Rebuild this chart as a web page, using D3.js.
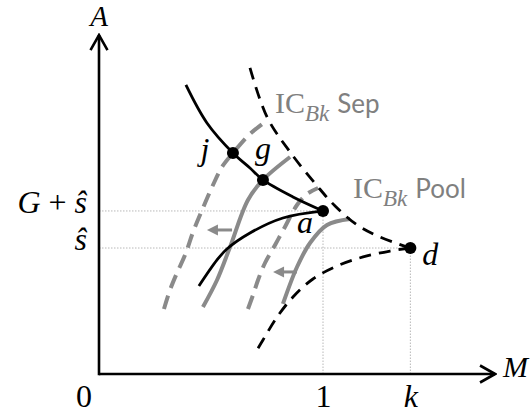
<!DOCTYPE html>
<html><head><meta charset="utf-8">
<script src="https://cdn.jsdelivr.net/npm/d3@7"></script>
<style>
html,body{margin:0;padding:0;background:#fff;}
svg{display:block;}
</style></head><body>
<svg id="chart" width="530" height="417"></svg>
<script>
// Model parameters (A measured in units of ŝ)
const G = 0.294, sHat = 1, k = 1.39;

// Tick labels
const xTicks = [1, k];
const xTickLabels = ["1", "k"];
const yTicks = [sHat + G, sHat];
const yTickLabels = ["G + ŝ", "ŝ"];

// Black solid curve falling through j, g to a
const curveFalling = [[0.388, 2.294], [0.482, 1.992], [0.598, 1.754], [0.674, 1.635],
  [0.732, 1.540], [0.866, 1.405], [1.0, 1.294]];
// Black solid curve rising to a
const curveRising = [[0.446, 0.698], [0.527, 0.905], [0.571, 0.992], [0.674, 1.119],
  [0.821, 1.238], [1.0, 1.294]];
// Black dashed boundary, upper branch ending at d
const boundUpper = [[0.674, 2.429], [0.750, 2.040], [0.853, 1.762], [0.978, 1.484],
  [1.054, 1.333], [1.152, 1.183], [1.254, 1.087], [1.39, 1.0]];
// Black dashed boundary, lower branch starting at d
const boundLower = [[1.39, 1.0], [1.299, 0.976], [1.179, 0.929], [1.0625, 0.857],
  [0.955, 0.754], [0.866, 0.611], [0.795, 0.452], [0.732, 0.270], [0.705, 0.190]];
// IC_Bk, separating: solid and shifted (dashed)
const icSep = [[0.464, 0.532], [0.527, 0.746], [0.585, 1.008], [0.665, 1.381],
  [0.732, 1.540], [0.853, 1.722]];
const icSepShifted = [[0.290, 0.516], [0.317, 0.667], [0.348, 0.802], [0.384, 0.944],
  [0.420, 1.127], [0.464, 1.317], [0.509, 1.500], [0.549, 1.643], [0.598, 1.754],
  [0.674, 1.905], [0.754, 2.016]];
// IC_Bk, pooling: solid and shifted (dashed)
const icPool = [[0.821, 0.556], [0.884, 0.849], [0.942, 1.040], [1.018, 1.183], [1.121, 1.230]];
const icPoolShifted = [[0.665, 0.516], [0.6875, 0.627], [0.710, 0.746], [0.741, 0.881],
  [0.786, 1.024], [0.830, 1.167], [0.884, 1.341], [0.929, 1.429], [0.978, 1.476]];

// Shift arrows: A level, from M, to M
const shiftArrows = [[1.143, 0.594, 0.482], [0.810, 0.884, 0.777]];

// Labelled points
const pointNames = ["j", "g", "a", "d"];
const pointM = [0.598, 0.732, 1, k];
const pointA = [1.754, 1.540, sHat + G, sHat];

// Dotted guides from the axes to these points
const guidePoints = [[1, sHat + G], [k, sHat]];

const svg = d3.select("#chart");
const x = d3.scaleLinear().domain([0, 1]).range([99, 323]);
const y = d3.scaleLinear().domain([0, 1]).range([374, 248]);
const xEnd = 1.768, yEnd = 2.69;

const GRAY = "#8a8a8a";
const MATH = "'Liberation Serif', 'DejaVu Serif', serif";
const SANS = "Lato, 'Open Sans', sans-serif";

const defs = svg.append("defs");
defs.append("marker").attr("id", "chev").attr("viewBox", "-17 -10 19 20")
  .attr("refX", 0).attr("refY", 0).attr("markerWidth", 19).attr("markerHeight", 20)
  .attr("markerUnits", "userSpaceOnUse").attr("orient", "auto")
  .append("path").attr("d", "M-15,-8.5L0,0L-15,8.5")
  .attr("fill", "none").attr("stroke", "#000").attr("stroke-width", 2.6);
defs.append("marker").attr("id", "tri").attr("viewBox", "-12 -6 13 12")
  .attr("refX", -9).attr("refY", 0).attr("markerWidth", 13).attr("markerHeight", 12)
  .attr("markerUnits", "userSpaceOnUse").attr("orient", "auto")
  .append("path").attr("d", "M-11,-5.5L0,0L-11,5.5Z").attr("fill", GRAY);

// Guides
const guides = svg.append("g").attr("stroke", "#b8b8b8").attr("stroke-width", 1)
  .attr("stroke-dasharray", "1.5,1.5");
guidePoints.forEach(([m, a]) => {
  guides.append("line").attr("x1", x(0)).attr("x2", x(m)).attr("y1", y(a)).attr("y2", y(a));
  guides.append("line").attr("x1", x(m)).attr("x2", x(m)).attr("y1", y(0)).attr("y2", y(a));
});

// Axes
svg.append("line").attr("x1", x(0)).attr("y1", y(0)).attr("x2", x(xEnd)).attr("y2", y(0))
  .attr("stroke", "#000").attr("stroke-width", 2.6).attr("marker-end", "url(#chev)");
svg.append("line").attr("x1", x(0)).attr("y1", y(0) + 1.3).attr("x2", x(0)).attr("y2", y(yEnd))
  .attr("stroke", "#000").attr("stroke-width", 2.6).attr("marker-end", "url(#chev)");

// Rich text: letters italic, digits/operators upright
function mathText(sel, str) {
  sel.text(null);
  const parts = str.match(/[A-Za-zŝ]+|[^A-Za-zŝ]+/g);
  parts.forEach(p => {
    sel.append("tspan").attr("font-style", /[A-Za-zŝ]/.test(p) ? "italic" : "normal").text(p);
  });
}

const xAxis = svg.append("g").attr("transform", `translate(0,${y(0)})`)
  .call(d3.axisBottom(x).tickValues(xTicks).tickFormat((d, i) => xTickLabels[i])
    .tickSize(0).tickPadding(10));
xAxis.select(".domain").remove();
xAxis.selectAll("text").attr("font-family", MATH).attr("font-size", 32).attr("fill", "#000")
  .each(function () { mathText(d3.select(this), this.textContent); });

const yAxis = svg.append("g").attr("transform", `translate(${x(0)},0)`)
  .call(d3.axisLeft(y).tickValues(yTicks).tickFormat((d, i) => yTickLabels[i])
    .tickSize(0).tickPadding(12));
yAxis.select(".domain").remove();
yAxis.selectAll("text").attr("font-family", MATH).attr("font-size", 32).attr("fill", "#000")
  .attr("dy", "0.05em").attr("xml:space", "preserve")
  .each(function () { mathText(d3.select(this), this.textContent); });

// Axis titles and origin
svg.append("text").attr("x", x(0)).attr("y", 26).attr("text-anchor", "middle")
  .attr("font-family", MATH).attr("font-style", "italic").attr("font-size", 29).text("A");
svg.append("text").attr("x", 503).attr("y", 377)
  .attr("font-family", MATH).attr("font-style", "italic").attr("font-size", 30).text("M");
svg.append("text").attr("x", x(0) - 15).attr("y", 407).attr("text-anchor", "middle")
  .attr("font-family", MATH).attr("font-size", 32).text("0");

const line = d3.line().x(d => x(d[0])).y(d => y(d[1])).curve(d3.curveCatmullRom.alpha(0.5));

// Gray indifference curves
[[icSepShifted, true], [icPoolShifted, true], [icSep, false], [icPool, false]].forEach(([pts, dashed]) => {
  svg.append("path").attr("d", line(pts)).attr("fill", "none").attr("stroke", GRAY)
    .attr("stroke-width", 4).attr("stroke-dasharray", dashed ? "14,8" : null);
});

// Shift arrows
shiftArrows.forEach(([a, m0, m1]) => {
  svg.append("line").attr("x1", x(m0)).attr("x2", x(m1) + 9).attr("y1", y(a)).attr("y2", y(a))
    .attr("stroke", GRAY).attr("stroke-width", 3).attr("marker-end", "url(#tri)");
});

// Black curves
[[curveFalling, false], [curveRising, false], [boundUpper, true], [boundLower, true]].forEach(([pts, dashed]) => {
  svg.append("path").attr("d", line(pts)).attr("fill", "none").attr("stroke", "#000")
    .attr("stroke-width", 2.8).attr("stroke-dasharray", dashed ? "12,8" : null);
});

// Points and their labels
const labelOffset = { j: [-28, 7], g: [0, -21], a: [-18, 22], d: [20, 17] };
pointNames.forEach((n, i) => {
  svg.append("circle").attr("cx", x(pointM[i])).attr("cy", y(pointA[i])).attr("r", 6).attr("fill", "#000");
  svg.append("text").attr("x", x(pointM[i]) + labelOffset[n][0]).attr("y", y(pointA[i]) + labelOffset[n][1])
    .attr("text-anchor", "middle").attr("font-family", MATH).attr("font-style", "italic")
    .attr("font-size", 32).text(n);
});

// Curve labels
function icLabel(px, py, word) {
  const t = svg.append("text").attr("x", px).attr("y", py).attr("fill", "#808080");
  t.append("tspan").attr("font-family", MATH).attr("font-size", 30).text("IC");
  t.append("tspan").attr("font-family", MATH).attr("font-style", "italic").attr("font-size", 23)
    .attr("dy", 8).text("Bk");
  t.append("tspan").attr("font-family", SANS).attr("font-size", 26).attr("dy", -8).attr("dx", 8).text(word);
}
icLabel(275, 113, "Sep");
icLabel(353, 198, "Pool");
</script>
</body></html>
